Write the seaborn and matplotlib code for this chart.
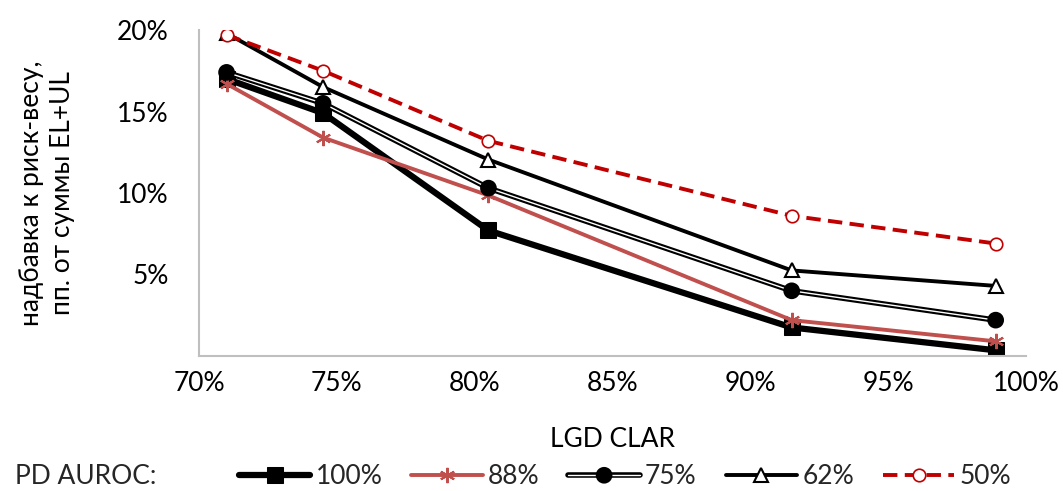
import matplotlib
matplotlib.use("Agg")
import matplotlib.pyplot as plt
import matplotlib.patheffects as pe
import matplotlib.ticker as mticker
import seaborn as sns
import numpy as np

sns.set_theme(style="white")
plt.rcParams['font.family'] = ['Lato', 'DejaVu Sans']

lgd_clar = [0.71, 0.745, 0.805, 0.915, 0.989]
auroc_100 = [0.170, 0.149, 0.077, 0.0175, 0.0035]
auroc_88 = [0.167, 0.134, 0.0985, 0.022, 0.009]
auroc_75 = [0.174, 0.155, 0.103, 0.040, 0.022]
auroc_62 = [0.198, 0.165, 0.1205, 0.0525, 0.043]
auroc_50 = [0.197, 0.175, 0.132, 0.086, 0.069]
labels = ["100%", "88%", "75%", "62%", "50%"]
x_ticks = [0.70, 0.75, 0.80, 0.85, 0.90, 0.95, 1.00]
y_ticks = [0.05, 0.10, 0.15, 0.20]

fig = plt.figure(figsize=(10.63, 4.91), dpi=100)
ax = fig.add_axes([199/1063, 1-356/491, (1026-199)/1063, (356-30)/491])

fs = 19

sns.lineplot(x=lgd_clar, y=auroc_100, ax=ax, color="black", lw=4.5, marker="s",
             markersize=11, markeredgecolor="black", label=labels[0])
sns.lineplot(x=lgd_clar, y=auroc_88, ax=ax, color="#C0504D", lw=2.8, marker=(6, 2, 0),
             markersize=11, markeredgewidth=1.5, markeredgecolor="#C0504D", label=labels[1])
sns.lineplot(x=lgd_clar, y=auroc_75, ax=ax, color="white", lw=1.0, marker="o",
             markersize=8, markerfacecolor="black", markeredgecolor="black",
             label=labels[2],
             path_effects=[pe.Stroke(linewidth=4.0, foreground="black"), pe.Normal()])
sns.lineplot(x=lgd_clar, y=auroc_62, ax=ax, color="black", lw=2.8, marker="^",
             markersize=10, markerfacecolor="white", markeredgecolor="black",
             markeredgewidth=1.5, label=labels[3])
sns.lineplot(x=lgd_clar, y=auroc_50, ax=ax, color="#C00000", lw=2.8, marker="o",
             markersize=9, markerfacecolor="white", markeredgecolor="#C00000",
             markeredgewidth=1.2, linestyle=(0, (3.7, 1.9)), label=labels[4])

ax.set_xlim(0.70, 1.00)
ax.set_ylim(0, 0.20)
ax.set_xticks(x_ticks)
ax.set_yticks(y_ticks)
ax.xaxis.set_major_formatter(mticker.FuncFormatter(lambda v, p: f"{v*100:.0f}%"))
ax.yaxis.set_major_formatter(mticker.FuncFormatter(lambda v, p: f"{v*100:.0f}%"))
ax.tick_params(axis="both", length=0, labelsize=fs, colors="black")
ax.tick_params(axis="y", pad=22)
ax.tick_params(axis="x", pad=11)
for s in ["top", "right"]:
    ax.spines[s].set_visible(False)
for s in ["left", "bottom"]:
    ax.spines[s].set_color("#BFBFBF")
    ax.spines[s].set_linewidth(1.5)
ax.grid(False)

ax.set_xlabel("LGD CLAR", fontsize=fs, color="black", labelpad=22)
ax.set_ylabel("надбавка к риск-весу,\nпп. от суммы EL+UL", fontsize=fs, color="black",
              labelpad=30, linespacing=1.3)

handles, lbls = ax.get_legend_handles_labels()
ax.get_legend().remove()
fig.legend(handles, lbls, loc="center", bbox_to_anchor=(625/1063, 1-477/491), ncol=5,
           frameon=False, fontsize=fs, handlelength=2.7, handletextpad=0.2,
           columnspacing=1.1, borderpad=0)
fig.text(15/1063, 1-477/491, "PD AUROC:", fontsize=fs, va="center", ha="left")

fig.savefig("out.png", dpi=100)
